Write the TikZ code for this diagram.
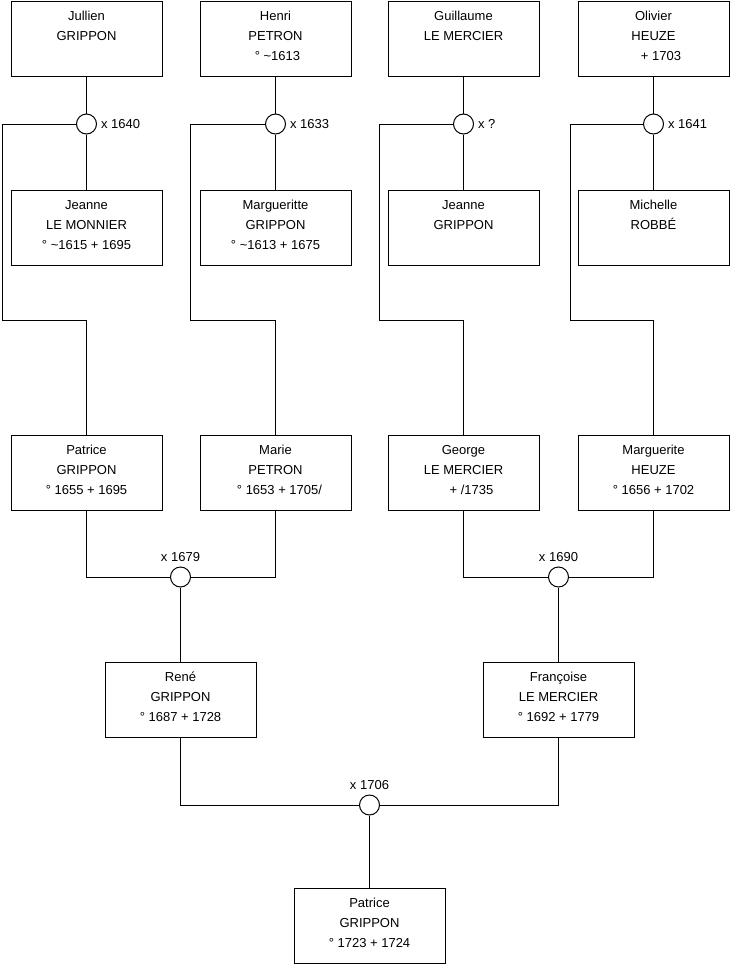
\documentclass[tikz,border=0pt]{standalone}
\usepackage{fontspec}
\setmainfont{Liberation Sans}
\newcommand\pbox[1]{\parbox[c][75pt][t]{151pt}{\centering\rule{0pt}{19pt}#1}}
\begin{document}
\begin{tikzpicture}[x=1pt,y=-1pt,line width=1pt,
  person/.style={draw,rectangle,minimum width=151pt,minimum height=75pt,inner sep=0pt,
    font=\fontsize{13pt}{20pt}\selectfont},
  wed/.style={draw,circle,minimum size=20pt,inner sep=0pt,fill=white},
  wedlabel/.style={inner sep=0pt,font=\fontsize{13pt}{16pt}\selectfont}]
\useasboundingbox (0,0) rectangle (740,975);

% row 1
\node[person] (a1) at (86.5,38.5) {\pbox{Jullien\\GRIPPON}};
\node[person] (a2) at (275.5,38.5) {\pbox{Henri\\PETRON\\\hspace*{4pt}° \textasciitilde1613}};
\node[person] (a3) at (463.5,38.5) {\pbox{Guillaume\\LE MERCIER}};
\node[person] (a4) at (653.5,38.5) {\pbox{Olivier\\HEUZE\\\hspace*{15pt}+ 1703}};
% row 2
\node[person] (b1) at (86.5,227.5) {\pbox{Jeanne\\LE MONNIER\\° \textasciitilde1615 + 1695}};
\node[person] (b2) at (275.5,227.5) {\pbox{Margueritte\\GRIPPON\\° \textasciitilde1613 + 1675}};
\node[person] (b3) at (463.5,227.5) {\pbox{Jeanne\\GRIPPON}};
\node[person] (b4) at (653.5,227.5) {\pbox{Michelle\\ROBBÉ}};
% row 3
\node[person] (p1) at (86.5,472.5) {\pbox{Patrice\\GRIPPON\\° 1655 + 1695}};
\node[person] (p2) at (275.5,472.5) {\pbox{Marie\\PETRON\\\hspace*{8pt}° 1653 + 1705/}};
\node[person] (p3) at (463.5,472.5) {\pbox{George\\LE MERCIER\\\hspace*{16pt}+ /1735}};
\node[person] (p4) at (653.5,472.5) {\pbox{Marguerite\\HEUZE\\° 1656 + 1702}};
% row 4
\node[person] (r1) at (180.5,699.5) {\pbox{René\\GRIPPON\\° 1687 + 1728}};
\node[person] (r2) at (558.5,699.5) {\pbox{Françoise\\LE MERCIER\\° 1692 + 1779}};
% row 5
\node[person] (z) at (369.5,925.5) {\pbox{Patrice\\GRIPPON\\° 1723 + 1724}};

% marriage circles
\node[wed] (c1) at (86.5,124) {};
\node[wed] (c2) at (275.5,124) {};
\node[wed] (c3) at (463.5,124) {};
\node[wed] (c4) at (653.5,124) {};
\node[wed] (m1) at (180.5,577) {};
\node[wed] (m2) at (558.5,577) {};
\node[wed] (m3) at (369.5,805) {};

\node[wedlabel,anchor=west,xshift=3.5pt] (l1) at (c1.east) {x 1640};
\node[wedlabel,anchor=west,xshift=3.5pt] (l2) at (c2.east) {x 1633};
\node[wedlabel,anchor=west,xshift=3.5pt] (l3) at (c3.east) {x ?};
\node[wedlabel,anchor=west,xshift=3.5pt] (l4) at (c4.east) {x 1641};
\node[wedlabel,anchor=south,yshift=4pt] (l5) at (m1.north) {x 1679};
\node[wedlabel,anchor=south,yshift=4pt] (l6) at (m2.north) {x 1690};
\node[wedlabel,anchor=south,yshift=4pt] (l7) at (m3.north) {x 1706};

% corner coordinates
\coordinate (k1) at (2,320);
\coordinate (k2) at (190,320);
\coordinate (k3) at (379,320);
\coordinate (k4) at (570,320);

% connectors
\foreach \i in {1,2,3,4}{
  \draw (a\i.south) -- (c\i.north);
  \draw (c\i.south) -- (b\i.north);
  \draw (c\i.west) -| (k\i) -| (p\i.north);
}
\draw (p1.south) |- (m1.west);
\draw (p2.south) |- (m1.east);
\draw (p3.south) |- (m2.west);
\draw (p4.south) |- (m2.east);
\draw (m1.south) -- (r1.north);
\draw (m2.south) -- (r2.north);
\draw (r1.south) |- (m3.west);
\draw (r2.south) |- (m3.east);
\draw (m3.south) -- (z.north);
\end{tikzpicture}
\end{document}
